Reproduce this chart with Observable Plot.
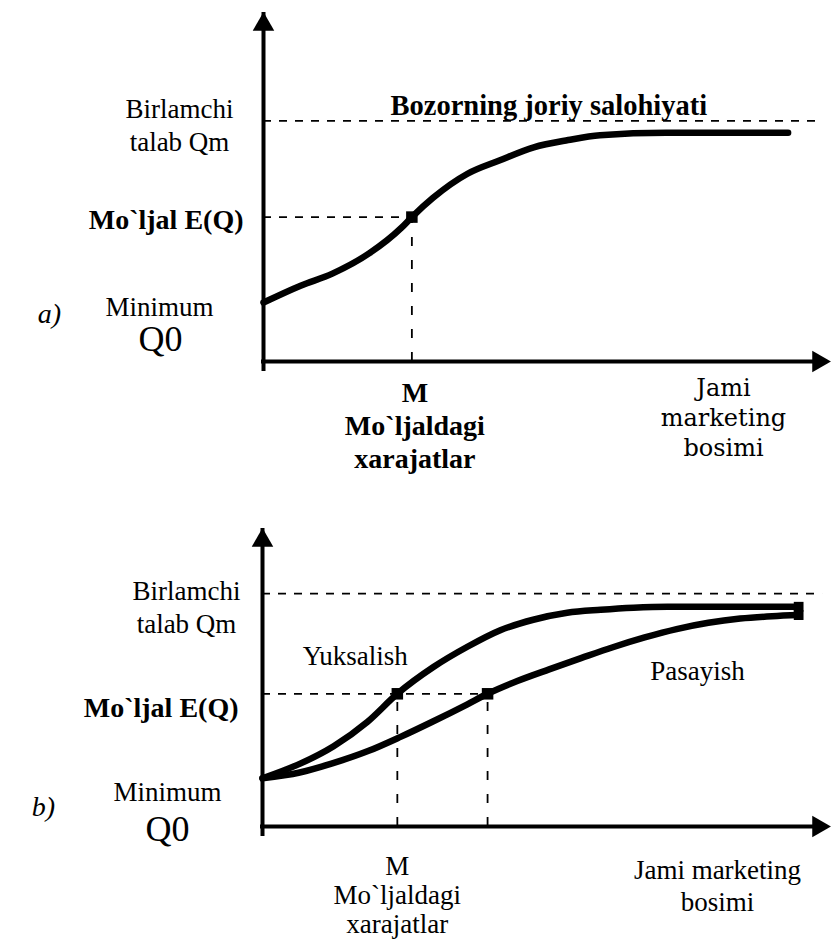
<!DOCTYPE html>
<html><head><meta charset="utf-8">
<script src="https://cdn.jsdelivr.net/npm/d3@7"></script>
<script src="https://cdn.jsdelivr.net/npm/@observablehq/plot@0.6"></script>
<style>
html,body{margin:0;padding:0;background:#fff;}
#chart{width:832px;}
#chart svg{display:block;}
</style></head><body><div id="chart"></div>
<script>
// ---------- Panel a) : one response curve ----------
const pressureA = [0, 7, 13, 20, 26, 28, 32, 38.5, 44.5, 51, 57.5, 63.5, 76, 99];
const demandA   = [24.5, 31.5, 36.5, 45, 55.5, 60, 68, 78, 83.5, 89, 92, 94, 95, 95];
const levelsA = {Q0: 24.5, EQ: 60, Qm: 100};
const targetA = 28;               // M
const potentialEndA = 104.5;
const axisMaxA = {x: 107, y: 145};

// ---------- Panel b) : rising / falling curves ----------
const pressureUp   = [0, 7.2, 13.4, 19.8, 25.4, 32.2, 38.6, 44.8, 51, 57.4, 63.7, 69.9, 76.3, 101];
const demandUp     = [20.7, 27.1, 34.5, 45, 57, 68.5, 77.2, 84.3, 88.8, 91.8, 93.1, 94, 94.4, 94.4];
const pressureDown = [0, 7, 13, 20, 26, 32, 38.6, 42.4, 48, 54, 60, 66, 72, 78, 84, 90, 96, 101];
const demandDown   = [20.7, 23.2, 27, 32.5, 38.5, 45, 52.5, 57, 62.5, 67.5, 72.3, 77, 81.2, 84.8, 87.5, 89.3, 90.3, 90.8];
const levelsB = {Q0: 20.7, EQ: 57, Qm: 100};
const targetsB = [25.4, 42.4];    // M for rising, M for falling
const potentialEndB = 105.5;
const axisMaxB = {x: 107, y: 128};

// ---------- Texts ----------
const labelQm = "Birlamchi\ntalab Qm";
const labelEQ = "Mo`ljal E(Q)";
const labelMin = "Minimum";
const labelQ0 = "Q0";
const labelPotential = "Bozorning joriy salohiyati";
const labelM = "M\nMo`ljaldagi\nxarajatlar";
const labelPressureA = "Jami\nmarketing\nbosimi";
const labelPressureB = "Jami marketing\nbosimi";
const labelUp = "Yuksalish";
const labelDown = "Pasayish";
const panelNames = ["a)", "b)"];

const SERIF = "'Liberation Serif', 'Times New Roman', serif";
const FS = 27;
const FSB = 28;

function axesMarks(ax) {
  return [
    Plot.ruleY([0], {x1: 0, x2: ax.x, strokeWidth: 4, stroke: "black", insetRight: 10, strokeLinecap: "square"}),
    Plot.ruleX([0], {y1: 0, y2: ax.y, strokeWidth: 4, stroke: "black", insetTop: 10}),
    Plot.dot([0], {x: 0, y: ax.y, symbol: "triangle", r: 8, fill: "black", dy: 12}),
    Plot.dot([0], {x: ax.x, y: 0, symbol: "triangle", r: 8, fill: "black", rotate: 90, dx: -12})
  ];
}
const T = (text, opts) => Plot.text([text], {fontFamily: SERIF, fontSize: FS, fill: "black", ...opts});

// Panel a
const plotA = Plot.plot({
  width: 832, height: 460,
  marginLeft: 263, marginRight: 2, marginTop: 12, marginBottom: 99,
  x: {domain: [0, axisMaxA.x], axis: null},
  y: {domain: [0, axisMaxA.y], axis: null},
  style: {fontFamily: SERIF, background: "white", overflow: "visible"},
  marks: [
    ...axesMarks(axisMaxA),
    Plot.ruleY([levelsA.Qm], {x1: 0, x2: potentialEndA, stroke: "black", strokeWidth: 1.8, strokeDasharray: "8,8"}),
    Plot.ruleY([levelsA.EQ], {x1: 0, x2: targetA, stroke: "black", strokeWidth: 1.8, strokeDasharray: "8,8"}),
    Plot.ruleX([targetA], {y1: 0, y2: levelsA.EQ, stroke: "black", strokeWidth: 1.8, strokeDasharray: "9,14"}),
    Plot.line(pressureA, {x: pressureA, y: demandA, curve: "monotone-x", stroke: "black", strokeWidth: 6.5}),
    Plot.dot([0], {x: targetA, y: levelsA.EQ, symbol: "square", r: 6.5, fill: "black"}),
    T(labelQm, {x: 0, y: levelsA.Qm, dx: -84, dy: 3, textAnchor: "middle", lineHeight: 1.23}),
    T(labelPotential, {x: 0, y: levelsA.Qm, dx: 127, dy: -15, textAnchor: "start", fontSize: 28.5, fontWeight: "bold"}),
    T(labelEQ, {x: 0, y: levelsA.EQ, dx: -20, dy: 3, textAnchor: "end", fontSize: FSB, fontWeight: "bold"}),
    T(labelMin, {x: 0, y: levelsA.Q0, dx: -104, dy: 5, textAnchor: "middle"}),
    T(labelQ0, {x: 0, y: levelsA.Q0, dx: -103, dy: 37, textAnchor: "middle", fontSize: 36}),
    T(panelNames[0], {x: 0, y: levelsA.Q0, dx: -214, dy: 12, textAnchor: "middle", fontSize: 28, fontStyle: "italic"}),
    T(labelM, {x: targetA, y: 0, dx: 3, dy: 63, textAnchor: "middle", lineHeight: 1.18, fontSize: FSB, fontWeight: "bold"}),
    T(labelPressureA, {x: axisMaxA.x, y: 0, dx: -107, dy: 55, textAnchor: "middle", lineHeight: 1.25, fontSize: 24, fontFamily: "'DejaVu Serif', serif"})
  ]
});

// Panel b
const plotB = Plot.plot({
  width: 832, height: 487,
  marginLeft: 262, marginRight: 2, marginTop: 68, marginBottom: 121,
  x: {domain: [0, axisMaxB.x], axis: null},
  y: {domain: [0, axisMaxB.y], axis: null},
  style: {fontFamily: SERIF, background: "white", overflow: "visible"},
  marks: [
    ...axesMarks(axisMaxB),
    Plot.ruleY([levelsB.Qm], {x1: 0, x2: potentialEndB, stroke: "black", strokeWidth: 1.8, strokeDasharray: "8,8"}),
    Plot.ruleY([levelsB.EQ], {x1: 0, x2: targetsB[1], stroke: "black", strokeWidth: 1.8, strokeDasharray: "8,8"}),
    Plot.ruleX(targetsB, {y1: 0, y2: levelsB.EQ, stroke: "black", strokeWidth: 1.8, strokeDasharray: "9,14"}),
    Plot.line(pressureUp, {x: pressureUp, y: demandUp, curve: "monotone-x", stroke: "black", strokeWidth: 6.5}),
    Plot.line(pressureDown, {x: pressureDown, y: demandDown, curve: "monotone-x", stroke: "black", strokeWidth: 6.5}),
    Plot.dot(targetsB, {x: d => d, y: levelsB.EQ, symbol: "square", r: 6.5, fill: "black"}),
    Plot.dot([0, 1], {x: [pressureUp.at(-1), pressureDown.at(-1)], y: [demandUp.at(-1), demandDown.at(-1)], symbol: "square", r: 5.5, fill: "black"}),
    T(labelQm, {x: 0, y: levelsB.Qm, dx: -76, dy: 12, textAnchor: "middle", lineHeight: 1.23}),
    T(labelEQ, {x: 0, y: levelsB.EQ, dx: -24, dy: 14, textAnchor: "end", fontSize: FSB, fontWeight: "bold"}),
    T(labelMin, {x: 0, y: levelsB.Q0, dx: -95, dy: 14, textAnchor: "middle"}),
    T(labelQ0, {x: 0, y: levelsB.Q0, dx: -95, dy: 51, textAnchor: "middle", fontSize: 36}),
    T(panelNames[1], {x: 0, y: levelsB.Q0, dx: -219, dy: 29, textAnchor: "middle", fontSize: 28, fontStyle: "italic"}),
    T(labelUp, {x: targetsB[0], y: levelsB.EQ, dx: -42, dy: -37, textAnchor: "middle"}),
    T(labelDown, {x: axisMaxB.x, y: levelsB.EQ, dx: -133, dy: -22, textAnchor: "middle"}),
    T(labelM, {x: targetsB[0], y: 0, dx: 0, dy: 68, textAnchor: "middle", lineHeight: 1.08}),
    T(labelPressureB, {x: axisMaxB.x, y: 0, dx: -113, dy: 58, textAnchor: "middle", lineHeight: 1.2})
  ]
});

const chart = document.getElementById("chart");
chart.appendChild(plotA);
chart.appendChild(plotB);
</script>
</body></html>
